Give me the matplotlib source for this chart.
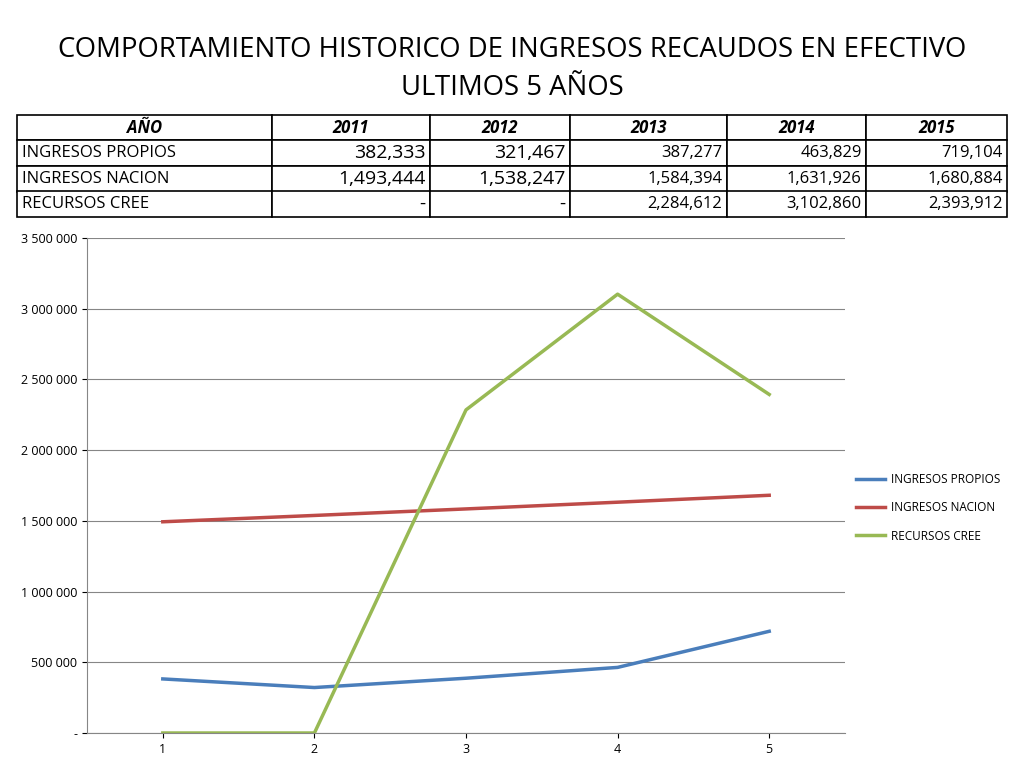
import matplotlib.pyplot as plt

years = ['2011', '2012', '2013', '2014', '2015']
x = [1, 2, 3, 4, 5]
propios = [382333, 321467, 387277, 463829, 719104]
nacion = [1493444, 1538247, 1584394, 1631926, 1680884]
cree = [0, 0, 2284612, 3102860, 2393912]
names = ['INGRESOS PROPIOS', 'INGRESOS NACION', 'RECURSOS CREE']
colors = ['#4a7ebb', '#be4b48', '#98b954']

W, H = 1024, 768
fig = plt.figure(figsize=(10.24, 7.68), dpi=100)
plt.rcParams['font.family'] = 'Open Sans'

fig.text(0.5, 1 - 50 / H, 'COMPORTAMIENTO HISTORICO DE INGRESOS RECAUDOS EN EFECTIVO',
         ha='center', va='center', fontsize=19.8)
fig.text(0.5, 1 - 88 / H, 'ULTIMOS 5 AÑOS', ha='center', va='center', fontsize=19.8)

# table
def fmt(v):
    return '-' if v == 0 else f'{v:,}'

cells = [['AÑO'] + years]
for n, s in zip(names, [propios, nacion, cree]):
    cells.append([n] + [fmt(v) for v in s])
tax = fig.add_axes([17 / W, 1 - 217 / H, 990 / W, 102 / H])
tax.axis('off')
widths = [255, 158, 140, 157, 139, 141]
tab = tax.table(cellText=cells, bbox=[0, 0, 1, 1],
                colWidths=[w / sum(widths) for w in widths])
tab.auto_set_font_size(False)
for (r, c), cell in tab.get_celld().items():
    cell.set_linewidth(1.2)
    t = cell.get_text()
    t.set_fontsize(12)
    if r == 0:
        t.set_fontweight('bold')
        t.set_fontstyle('italic')
        t.set_ha('center')
    elif c == 0:
        t.set_ha('left')
        cell.PAD = 0.02
    else:
        t.set_ha('right')
        cell.PAD = 0.03
        if c <= 2:
            t.set_fontsize(14)

# chart
ax = fig.add_axes([87 / W, 1 - 733 / H, 758 / W, 495 / H])
for s, n, col in zip([propios, nacion, cree], names, colors):
    ax.plot(x, s, color=col, lw=2.5, label=n)
ax.set_xlim(0.5, 5.5)
ax.set_ylim(0, 3500000)
ax.set_xticks(x)
yt = list(range(0, 3500001, 500000))
ax.set_yticks(yt)
ax.set_yticklabels(['-'] + [f'{v:,}'.replace(',', ' ') for v in yt[1:]])
ax.tick_params(labelsize=9)
ax.grid(axis='y', color='#868686', lw=0.8)
for sp in ['top', 'right']:
    ax.spines[sp].set_visible(False)
for sp in ['left', 'bottom']:
    ax.spines[sp].set_color('#868686')
ax.legend(loc='center left', bbox_to_anchor=(1.0, 0.455), frameon=False, fontsize=8.5,
          handlelength=2.5, handletextpad=0.5, labelspacing=1.3)

fig.savefig('out.png')
